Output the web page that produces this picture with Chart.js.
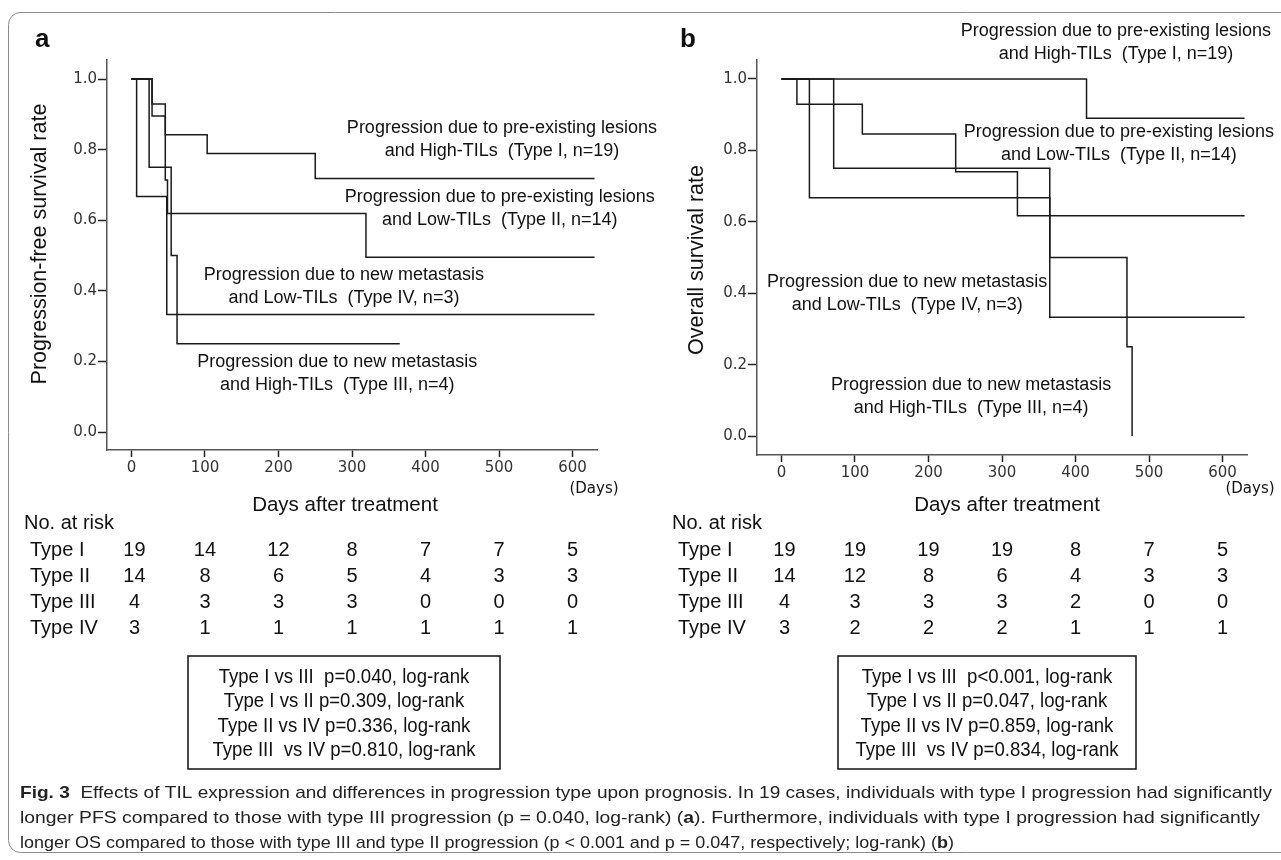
<!DOCTYPE html>
<html>
<head>
<meta charset="utf-8">
<script src="https://cdn.jsdelivr.net/npm/chart.js@4.4.1/dist/chart.umd.min.js"></script>
<style>
  html, body { margin: 0; padding: 0; background: #fff; }
  #wrap { position: relative; width: 1281px; height: 860px; overflow: hidden; }
  #wrap canvas { position: absolute; left: 0; top: 0; }
</style>
</head>
<body>
<div id="wrap">
  <canvas id="pfsChart" width="1281" height="860"></canvas>
  <canvas id="osChart" width="1281" height="860"></canvas>
</div>
<script>
const xTicks = [0, 100, 200, 300, 400, 500, 600];
const yTicks = [0, 0.2, 0.4, 0.6, 0.8, 1.0];
const typeNames = ['Type I', 'Type II', 'Type III', 'Type IV'];

// panel a: progression-free survival (days, survival rate)
const pfsDaysI = [0, 28, 46, 103, 250, 630];
const pfsSurvI = [1, 0.895, 0.842, 0.789, 0.718, 0.718];
const pfsDaysII = [0, 28, 46, 49, 319, 630];
const pfsSurvII = [1, 0.929, 0.714, 0.619, 0.495, 0.495];
const pfsDaysIII = [0, 24, 54, 62, 365];
const pfsSurvIII = [1, 0.75, 0.5, 0.25, 0.25];
const pfsDaysIV = [0, 7, 48, 630];
const pfsSurvIV = [1, 0.667, 0.333, 0.333];

// panel b: overall survival
const osDaysI = [0, 415, 630];
const osSurvI = [1, 0.89, 0.89];
const osDaysII = [0, 21, 110, 237, 321, 630];
const osSurvII = [1, 0.929, 0.846, 0.74, 0.617, 0.617];
const osDaysIII = [0, 71, 365, 470, 477];
const osSurvIII = [1, 0.75, 0.5, 0.25, 0];
const osDaysIV = [0, 38, 365, 630];
const osSurvIV = [1, 0.667, 0.333, 0.333];

// numbers at risk at 0,100,...,600 days
const pfsRisk = [
  [19, 14, 12, 8, 7, 7, 5],
  [14, 8, 6, 5, 4, 3, 3],
  [4, 3, 3, 3, 0, 0, 0],
  [3, 1, 1, 1, 1, 1, 1]
];
const osRisk = [
  [19, 19, 19, 19, 8, 7, 5],
  [14, 12, 8, 6, 4, 3, 3],
  [4, 3, 3, 3, 2, 0, 0],
  [3, 2, 2, 2, 1, 1, 1]
];

const pfsStats = ['Type I vs III  p=0.040, log-rank', 'Type I vs II p=0.309, log-rank', 'Type II vs IV p=0.336, log-rank', 'Type III  vs IV p=0.810, log-rank'];
const osStats = ['Type I vs III  p<0.001, log-rank', 'Type I vs II p=0.047, log-rank', 'Type II vs IV p=0.859, log-rank', 'Type III  vs IV p=0.834, log-rank'];

const captionLines = [
  [{ t: 'Fig. 3', b: true }, { t: '  Effects of TIL expression and differences in progression type upon prognosis. In 19 cases, individuals with type I progression had significantly' }],
  [{ t: 'longer PFS compared to those with type III progression (p = 0.040, log-rank) (' }, { t: 'a', b: true }, { t: '). Furthermore, individuals with type I progression had significantly' }],
  [{ t: 'longer OS compared to those with type III and type II progression (p < 0.001 and p = 0.047, respectively; log-rank) (' }, { t: 'b', b: true }, { t: ')' }]
];
const captionWidths = [1252, 1240, 934];

const SANS = '"Liberation Sans", Arial, sans-serif';

function steps(days, surv) {
  return days.map((d, i) => ({ x: d, y: surv[i] }));
}

function curve(days, surv) {
  return {
    data: steps(days, surv),
    stepped: 'before',
    borderColor: '#1a1a1a',
    borderWidth: 1.5,
    pointRadius: 0,
    fill: false
  };
}

const kmExtras = {
  id: 'kmExtras',
  afterDraw(chart, args, o) {
    const ctx = chart.ctx;
    const xs = chart.scales.x, ys = chart.scales.y;
    ctx.save();
    ctx.fillStyle = '#111';
    ctx.textBaseline = 'middle';

    // curve labels
    ctx.font = '18px ' + SANS;
    ctx.textAlign = 'center';
    o.labels.forEach(l => {
      const px = xs.getPixelForValue(l.x), py = ys.getPixelForValue(l.y);
      l.lines.forEach((t, i) => ctx.fillText(t, px, py + i * 23));
    });

    // axis titles
    ctx.font = '21.5px ' + SANS;
    ctx.save();
    ctx.translate(o.yTitleX, o.yTitleY);
    ctx.rotate(-Math.PI / 2);
    ctx.fillText(o.yTitle, 0, 0);
    ctx.restore();
    ctx.font = '20.5px ' + SANS;
    ctx.fillText('Days after treatment', o.xTitleX, 505);
    ctx.font = '15px "DejaVu Sans", sans-serif';
    ctx.fillText('(Days)', o.daysX, 489);

    // panel letter
    ctx.font = 'bold 26px ' + SANS;
    ctx.textAlign = 'left';
    ctx.fillText(o.letter, o.letterX, 40);

    // number at risk table
    ctx.font = '20px ' + SANS;
    ctx.fillText('No. at risk', o.tableX, 523);
    o.risk.forEach((row, r) => {
      const y = 550 + r * 26;
      ctx.textAlign = 'left';
      ctx.fillText(typeNames[r], o.tableX + 6, y);
      ctx.textAlign = 'center';
      row.forEach((n, i) => {
        ctx.fillText(String(n), xs.getPixelForValue(xTicks[i]) + (i === 0 ? 3 : 0), y);
      });
    });

    // log-rank box
    ctx.strokeStyle = '#111';
    ctx.lineWidth = 1.5;
    ctx.strokeRect(o.box.x, 656, o.box.w, 113);
    ctx.textAlign = 'center';
    o.stats.forEach((t, i) => {
      ctx.save();
      ctx.translate(o.box.x + o.box.w / 2, 677 + i * 24.5);
      ctx.scale(0.93, 1);
      ctx.fillText(t, 0, 0);
      ctx.restore();
    });

    if (o.caption) {
      // figure frame
      ctx.strokeStyle = '#8a8a8a';
      ctx.lineWidth = 1;
      ctx.beginPath();
      ctx.moveTo(1300, 12.5);
      ctx.lineTo(20, 12.5);
      ctx.arcTo(8.5, 12.5, 8.5, 24, 12);
      ctx.lineTo(8.5, 840);
      ctx.arcTo(8.5, 852.5, 20, 852.5, 12);
      ctx.lineTo(1300, 852.5);
      ctx.stroke();

      ctx.fillStyle = '#222';
      ctx.textAlign = 'left';
      const reg = '17px ' + SANS, bold = 'bold 17px ' + SANS;
      captionLines.forEach((segs, li) => {
        let total = 0;
        segs.forEach(s => { ctx.font = s.b ? bold : reg; total += ctx.measureText(s.t).width; });
        const k = captionWidths[li] / total;
        ctx.save();
        ctx.translate(20, 793 + li * 25);
        ctx.scale(k, 1);
        let x = 0;
        segs.forEach(s => {
          ctx.font = s.b ? bold : reg;
          ctx.fillText(s.t, x, 0);
          x += ctx.measureText(s.t).width;
        });
        ctx.restore();
      });
    }
    ctx.restore();
  }
};

function makeKM(id, curves, pad, yWidth, extras) {
  new Chart(document.getElementById(id), {
    type: 'line',
    data: { datasets: curves },
    plugins: [kmExtras],
    options: {
      responsive: false,
      devicePixelRatio: 1,
      animation: false,
      layout: { padding: pad },
      plugins: {
        legend: { display: false },
        tooltip: { enabled: false },
        kmExtras: extras
      },
      scales: {
        x: {
          type: 'linear',
          min: -33.3,
          max: 633.3,
          afterBuildTicks: s => { s.ticks = xTicks.map(v => ({ value: v })); },
          afterFit: s => { s.height = 60; },
          grid: { drawOnChartArea: false, drawTicks: true, tickLength: 7, tickColor: '#222', tickWidth: 1.5 },
          border: { display: true, color: '#555', width: 1.5 },
          ticks: { autoSkip: false, maxRotation: 0, padding: 2, color: '#333', font: { family: 'DejaVu Sans', size: 15 } }
        },
        y: {
          min: extras.yMin,
          max: extras.yMax,
          afterBuildTicks: s => { s.ticks = yTicks.map(v => ({ value: v })); },
          afterFit: s => { s.width = yWidth; },
          grid: { drawOnChartArea: false, drawTicks: true, tickLength: 9, tickColor: '#222', tickWidth: 1.5 },
          border: { display: true, color: '#555', width: 1.5 },
          ticks: { padding: 1, color: '#333', font: { family: 'DejaVu Sans', size: 15 }, callback: v => v.toFixed(1) }
        }
      }
    }
  });
}

makeKM('pfsChart',
  [curve(pfsDaysI, pfsSurvI), curve(pfsDaysII, pfsSurvII), curve(pfsDaysIII, pfsSurvIII), curve(pfsDaysIV, pfsSurvIV)],
  { left: 0, right: 684, top: 60, bottom: 350 }, 107,
  {
    yMin: -0.051, yMax: 1.054,
    letter: 'a', letterX: 35,
    yTitle: 'Progression-free survival rate', yTitleX: 40, yTitleY: 244,
    xTitleX: 345, daysX: 594, tableX: 24,
    risk: pfsRisk, stats: pfsStats, box: { x: 188, w: 312 },
    labels: [
      { x: 504, y: 0.861, lines: ['Progression due to pre-existing lesions', 'and High-TILs  (Type I, n=19)'] },
      { x: 501, y: 0.666, lines: ['Progression due to pre-existing lesions', 'and Low-TILs  (Type II, n=14)'] },
      { x: 289, y: 0.445, lines: ['Progression due to new metastasis', 'and Low-TILs  (Type IV, n=3)'] },
      { x: 280, y: 0.198, lines: ['Progression due to new metastasis', 'and High-TILs  (Type III, n=4)'] }
    ],
    caption: false
  });

makeKM('osChart',
  [curve(osDaysI, osSurvI), curve(osDaysII, osSurvII), curve(osDaysIII, osSurvIII), curve(osDaysIV, osSurvIV)],
  { left: 660, right: 34, top: 60, bottom: 345 }, 97,
  {
    yMin: -0.053, yMax: 1.053,
    letter: 'b', letterX: 680,
    yTitle: 'Overall survival rate', yTitleX: 697, yTitleY: 260,
    xTitleX: 1007, daysX: 1250, tableX: 672,
    risk: osRisk, stats: osStats, box: { x: 838, w: 298 },
    labels: [
      { x: 455, y: 1.134, lines: ['Progression due to pre-existing lesions', 'and High-TILs  (Type I, n=19)'] },
      { x: 459, y: 0.852, lines: ['Progression due to pre-existing lesions', 'and Low-TILs  (Type II, n=14)'] },
      { x: 171, y: 0.431, lines: ['Progression due to new metastasis', 'and Low-TILs  (Type IV, n=3)'] },
      { x: 258, y: 0.143, lines: ['Progression due to new metastasis', 'and High-TILs  (Type III, n=4)'] }
    ],
    caption: true
  });
</script>
</body>
</html>
